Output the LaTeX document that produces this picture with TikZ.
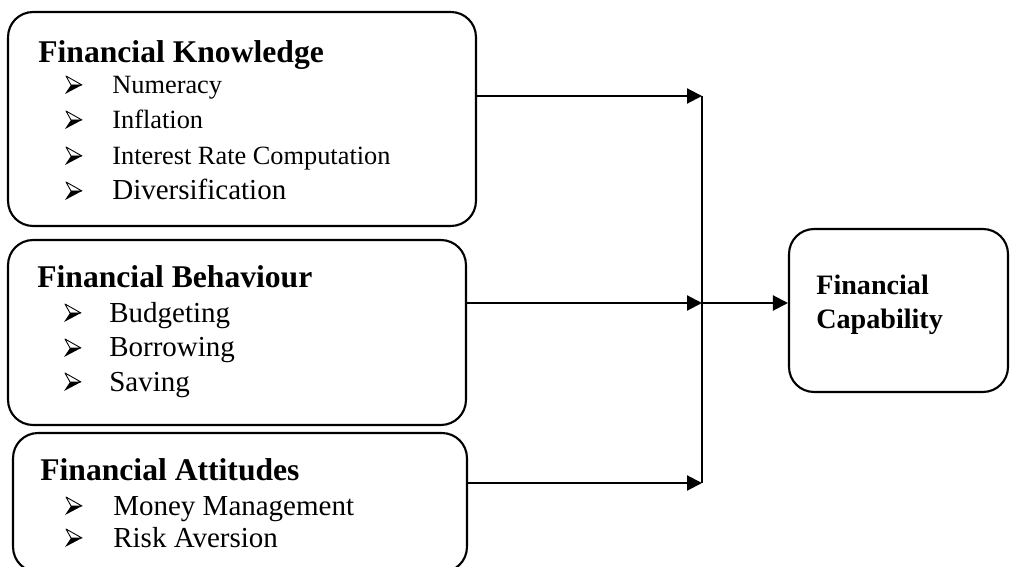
\documentclass[tikz,border=0pt]{standalone}
\usepackage{fontspec}
\setmainfont{Liberation Serif}
\usetikzlibrary{arrows.meta}

\begin{document}
\begin{tikzpicture}[x=0.02cm,y=-0.02cm,
    box/.style={draw,line width=1.2pt,rounded corners=0.5cm,inner sep=0pt},
    txt/.style={anchor=base west,inner sep=0pt},
    head/.style={txt,font=\fontsize{18}{21}\selectfont\bfseries},
    item/.style={txt,font=\fontsize{16.5}{19}\selectfont},
    smallitem/.style={txt,font=\fontsize{15}{18}\selectfont},
    arr/.style={line width=1.2pt,-{Triangle[length=0.3cm,width=0.3cm]}},
    bularrow/.pic={
        \draw[line width=0.5pt,fill=white,line join=round] (0,0) -- (-16,-9) -- (-11,0) -- cycle;
        \fill (0,0) -- (-11,0) -- (-17,9) -- cycle;
    }]
    \useasboundingbox (0,0) rectangle (1010,567);

    % boxes
    \node[box,minimum width=9.36cm,minimum height=4.28cm] (know) at (242,119) {};
    \node[box,minimum width=9.16cm,minimum height=3.7cm] (behav) at (237,332.5) {};
    \node[box,minimum width=9.08cm,minimum height=2.78cm] (att) at (240,502.5) {};
    \node[box,minimum width=4.38cm,minimum height=3.26cm] (cap) at (898.5,310.5) {};

    % texts
    \node[head] (knowhead) at (38,63) {Financial Knowledge};
    \foreach \t/\y [count=\i] in {Numeracy/94,Inflation/129,Interest Rate Computation/165}{
        \pic at (82,\y-9) {bularrow};
        \node[smallitem] (knowi\i) at (112,\y) {\t};
    }
    \pic at (82,191) {bularrow};
    \node[item] (knowi4) at (112,200) {Diversification};

    \node[head] (behavhead) at (37,288) {Financial Behaviour};
    \foreach \t/\y [count=\i] in {Budgeting/322,Borrowing/357,Saving/391}{
        \pic at (81,\y-9) {bularrow};
        \node[item] (behavi\i) at (109,\y) {\t};
    }

    \node[head] (atthead) at (40,480) {Financial Attitudes};
    \foreach \t/\y [count=\i] in {Money Management/515,Risk Aversion/547}{
        \pic at (82,\y-9) {bularrow};
        \node[item] (atti\i) at (113,\y) {\t};
    }

    \node[txt,font=\fontsize{16}{19}\selectfont\bfseries,align=left] (caphead) at (816,328)
        {Financial\\Capability};

    % connectors
    \coordinate (jk) at (702,96);
    \coordinate (jb) at (702,303);
    \coordinate (ja) at (702,483);
    \draw[arr] (know.east |- jk) -- (jk);
    \draw[arr] (behav.east |- jb) -- (jb);
    \draw[arr] (att.east |- ja) -- (ja);
    \draw[line width=1.2pt] (jk) -- (ja);
    \draw[arr] (jb) -- (cap.west |- jb);
\end{tikzpicture}
\end{document}
